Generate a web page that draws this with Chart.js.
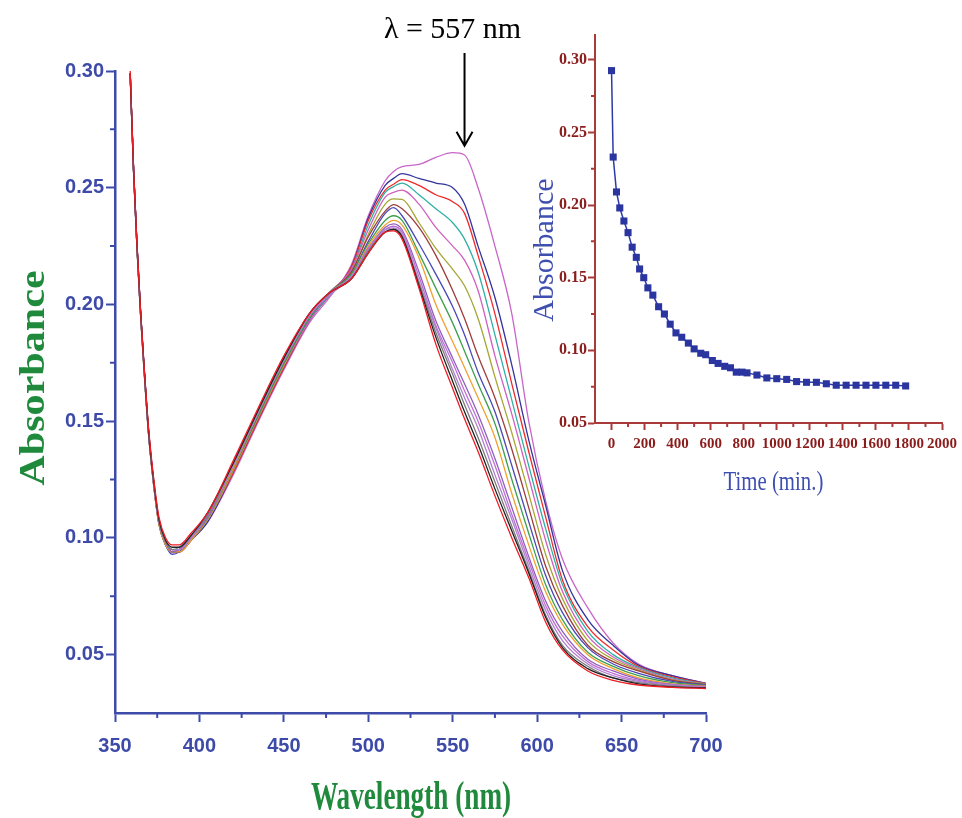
<!DOCTYPE html>
<html>
<head>
<meta charset="utf-8">
<title>Absorbance spectra</title>
<script src="https://cdn.jsdelivr.net/npm/chart.js@4.4.0/dist/chart.umd.min.js"></script>
<style>
  html, body { margin: 0; padding: 0; background: #fff; }
  #wrap { position: relative; width: 962px; height: 818px; overflow: hidden; }
  #main { position: absolute; left: 0; top: 0; }
  #inset { position: absolute; left: 500px; top: 20px; }
</style>
</head>
<body>
<div id="wrap">
  <canvas id="main" width="962" height="818"></canvas>
  <canvas id="inset" width="462" height="500"></canvas>
</div>
<script>
// wavelength grid (nm) shared by every scan
const wavelengths = [359, 361, 363, 365, 367, 370, 373, 376, 380, 384, 388, 395, 405, 420, 435, 450, 465,
  477, 490, 500, 510, 515, 520, 530, 540, 550, 557, 565, 575, 585, 595, 605, 615, 630, 645, 660, 680, 700];

// absorbance of each scan, first scan (highest at 557 nm) to last
const scan01 = [0.298, 0.258, 0.226, 0.199, 0.176, 0.145, 0.123, 0.107, 0.098, 0.095, 0.095, 0.099, 0.107, 0.127, 0.150, 0.172, 0.192,
  0.203, 0.217, 0.238, 0.253, 0.257, 0.259, 0.260, 0.263, 0.265, 0.264, 0.250, 0.225, 0.196, 0.150, 0.116, 0.091, 0.070, 0.055, 0.046, 0.041, 0.0377];
const scan02 = [0.299, 0.257, 0.225, 0.198, 0.175, 0.144, 0.122, 0.106, 0.097, 0.094, 0.094, 0.099, 0.107, 0.128, 0.151, 0.173, 0.193,
  0.204, 0.216, 0.237, 0.251, 0.254, 0.256, 0.254, 0.252, 0.250, 0.243, 0.225, 0.203, 0.174, 0.142, 0.114, 0.086, 0.065, 0.054, 0.0455, 0.041, 0.0377];
const scan03 = [0.299, 0.258, 0.226, 0.198, 0.175, 0.145, 0.123, 0.107, 0.098, 0.095, 0.095, 0.099, 0.108, 0.128, 0.151, 0.173, 0.193,
  0.204, 0.216, 0.236, 0.249, 0.2515, 0.2535, 0.251, 0.247, 0.244, 0.239, 0.221, 0.196, 0.166, 0.137, 0.109, 0.082, 0.062, 0.052, 0.045, 0.0405, 0.0376];
const scan04 = [0.298, 0.257, 0.225, 0.197, 0.174, 0.144, 0.122, 0.106, 0.097, 0.094, 0.094, 0.099, 0.108, 0.129, 0.152, 0.174, 0.193,
  0.204, 0.215, 0.234, 0.248, 0.2505, 0.252, 0.247, 0.241, 0.235, 0.228, 0.214, 0.187, 0.159, 0.131, 0.104, 0.080, 0.060, 0.050, 0.0445, 0.040, 0.0375];
const scan05 = [0.299, 0.257, 0.225, 0.198, 0.175, 0.144, 0.123, 0.107, 0.097, 0.094, 0.095, 0.100, 0.108, 0.129, 0.152, 0.174, 0.193,
  0.205, 0.215, 0.232, 0.246, 0.248, 0.249, 0.243, 0.233, 0.225, 0.219, 0.206, 0.178, 0.153, 0.126, 0.099, 0.077, 0.058, 0.049, 0.044, 0.0395, 0.0374];
const scan06 = [0.299, 0.258, 0.225, 0.198, 0.175, 0.144, 0.123, 0.106, 0.097, 0.094, 0.094, 0.099, 0.108, 0.129, 0.152, 0.174, 0.194,
  0.205, 0.214, 0.230, 0.243, 0.2452, 0.245, 0.235, 0.224, 0.215, 0.208, 0.194, 0.169, 0.145, 0.119, 0.093, 0.074, 0.056, 0.048, 0.0435, 0.0392, 0.0373];
const scan07 = [0.298, 0.257, 0.224, 0.197, 0.174, 0.143, 0.122, 0.106, 0.097, 0.094, 0.094, 0.099, 0.109, 0.130, 0.153, 0.175, 0.194,
  0.205, 0.214, 0.229, 0.240, 0.2428, 0.241, 0.233, 0.221, 0.206, 0.194, 0.178, 0.160, 0.138, 0.113, 0.088, 0.071, 0.054, 0.047, 0.043, 0.039, 0.0372];
const scan08 = [0.299, 0.257, 0.225, 0.198, 0.175, 0.144, 0.123, 0.107, 0.097, 0.093, 0.094, 0.099, 0.109, 0.130, 0.153, 0.175, 0.194,
  0.205, 0.213, 0.227, 0.239, 0.2415, 0.238, 0.226, 0.213, 0.199, 0.187, 0.171, 0.154, 0.131, 0.107, 0.084, 0.068, 0.053, 0.046, 0.042, 0.0385, 0.037];
const scan09 = [0.299, 0.258, 0.225, 0.198, 0.175, 0.144, 0.123, 0.107, 0.098, 0.094, 0.095, 0.100, 0.109, 0.130, 0.153, 0.175, 0.194,
  0.205, 0.213, 0.226, 0.236, 0.238, 0.236, 0.222, 0.207, 0.192, 0.180, 0.166, 0.149, 0.125, 0.102, 0.080, 0.065, 0.051, 0.045, 0.041, 0.038, 0.0368];
const scan10 = [0.298, 0.257, 0.225, 0.197, 0.174, 0.144, 0.122, 0.106, 0.097, 0.094, 0.094, 0.099, 0.109, 0.130, 0.154, 0.176, 0.195,
  0.205, 0.212, 0.225, 0.234, 0.236, 0.234, 0.220, 0.200, 0.184, 0.173, 0.160, 0.143, 0.119, 0.097, 0.077, 0.063, 0.050, 0.044, 0.040, 0.0375, 0.0366];
const scan11 = [0.299, 0.257, 0.225, 0.198, 0.175, 0.144, 0.123, 0.107, 0.098, 0.094, 0.095, 0.100, 0.109, 0.131, 0.154, 0.176, 0.195,
  0.204, 0.212, 0.224, 0.233, 0.2345, 0.232, 0.214, 0.193, 0.177, 0.166, 0.153, 0.134, 0.113, 0.092, 0.073, 0.060, 0.048, 0.043, 0.0395, 0.0372, 0.0364];
const scan12 = [0.299, 0.258, 0.226, 0.198, 0.175, 0.145, 0.123, 0.107, 0.098, 0.095, 0.095, 0.100, 0.110, 0.131, 0.154, 0.176, 0.195,
  0.205, 0.212, 0.224, 0.232, 0.2335, 0.231, 0.212, 0.191, 0.175, 0.163, 0.150, 0.131, 0.110, 0.090, 0.071, 0.058, 0.047, 0.042, 0.039, 0.037, 0.0362];
const scan13 = [0.298, 0.257, 0.225, 0.198, 0.175, 0.144, 0.123, 0.107, 0.098, 0.095, 0.095, 0.100, 0.110, 0.131, 0.154, 0.176, 0.195,
  0.204, 0.212, 0.223, 0.232, 0.2328, 0.230, 0.210, 0.190, 0.172, 0.160, 0.147, 0.127, 0.108, 0.088, 0.069, 0.056, 0.046, 0.041, 0.0385, 0.0368, 0.036];
const scan14 = [0.299, 0.257, 0.225, 0.198, 0.175, 0.144, 0.123, 0.107, 0.098, 0.095, 0.096, 0.101, 0.110, 0.132, 0.155, 0.177, 0.196,
  0.205, 0.211, 0.223, 0.231, 0.2323, 0.229, 0.209, 0.188, 0.170, 0.157, 0.143, 0.124, 0.105, 0.086, 0.067, 0.054, 0.045, 0.040, 0.038, 0.0365, 0.0358];
const scan15 = [0.299, 0.258, 0.226, 0.199, 0.176, 0.145, 0.124, 0.108, 0.099, 0.096, 0.096, 0.101, 0.111, 0.132, 0.155, 0.177, 0.196,
  0.205, 0.211, 0.222, 0.231, 0.2321, 0.229, 0.208, 0.186, 0.167, 0.154, 0.140, 0.121, 0.103, 0.085, 0.066, 0.053, 0.044, 0.040, 0.0375, 0.0362, 0.0357];
const scan16 = [0.300, 0.258, 0.226, 0.199, 0.176, 0.146, 0.125, 0.109, 0.100, 0.097, 0.097, 0.102, 0.111, 0.133, 0.156, 0.178, 0.196,
  0.205, 0.211, 0.222, 0.231, 0.2315, 0.228, 0.207, 0.183, 0.164, 0.151, 0.137, 0.118, 0.100, 0.083, 0.064, 0.052, 0.043, 0.039, 0.037, 0.036, 0.0355];

const scans = [scan01, scan02, scan03, scan04, scan05, scan06, scan07, scan08,
  scan09, scan10, scan11, scan12, scan13, scan14, scan15, scan16];
const scanColors = ['#c866c8', '#34349c', '#f02a2a', '#2fb0a6', '#d060c0', '#a6a634', '#a03c3c', '#4848b8',
  '#3ea04e', '#f0a030', '#9060c0', '#c070d0', '#b080d0', '#7a7a7a', '#202020', '#ee1c24'];

// kinetic trace at 557 nm
const timeMin = [0, 10, 30, 50, 75, 100, 125, 150, 170, 195, 220, 250, 285, 320, 355, 390, 425, 465, 500, 540,
  570, 610, 645, 685, 720, 755, 790, 820, 880, 940, 1000, 1060, 1120, 1180, 1240, 1300, 1360, 1420, 1480,
  1540, 1600, 1660, 1720, 1780];
const absAt557 = [0.2925, 0.233, 0.209, 0.198, 0.189, 0.181, 0.171, 0.164, 0.156, 0.150, 0.143, 0.138, 0.130,
  0.125, 0.118, 0.112, 0.109, 0.105, 0.101, 0.098, 0.097, 0.093, 0.091, 0.089, 0.088, 0.085, 0.085, 0.0845,
  0.083, 0.081, 0.0805, 0.080, 0.0785, 0.078, 0.078, 0.077, 0.076, 0.076, 0.076, 0.076, 0.076, 0.076, 0.076, 0.0755];

const wlTicks = [350, 400, 450, 500, 550, 600, 650, 700];
const absTicks = [0.05, 0.10, 0.15, 0.20, 0.25, 0.30];
const timeTicks = [0, 200, 400, 600, 800, 1000, 1200, 1400, 1600, 1800, 2000];
const insetAbsTicks = [0.05, 0.10, 0.15, 0.20, 0.25, 0.30];
const markedWavelength = 557;

const BLUE = '#3d4aa8';
const GREEN = '#1f8a3c';
const DARKRED = '#8b1c1c';
const RED_AXIS = '#a83a3a';
const INSET_BLUE = '#3f4fb0';

// text squeezed horizontally, like the condensed lettering of the figure
function drawText(ctx, text, x, y, font, color, squeeze, angle) {
  ctx.save();
  ctx.translate(x, y);
  if (angle) ctx.rotate(angle);
  ctx.scale(squeeze, 1);
  ctx.font = font;
  ctx.fillStyle = color;
  ctx.textAlign = 'center';
  ctx.textBaseline = 'alphabetic';
  ctx.fillText(text, 0, 0);
  ctx.restore();
}

function minorTicks(ctx, scale, values, horizontal, edge, len, color) {
  ctx.save();
  ctx.strokeStyle = color;
  ctx.lineWidth = 2;
  ctx.beginPath();
  values.forEach(v => {
    const p = scale.getPixelForValue(v);
    if (horizontal) { ctx.moveTo(p, edge); ctx.lineTo(p, edge + len); }
    else { ctx.moveTo(edge, p); ctx.lineTo(edge - len, p); }
  });
  ctx.stroke();
  ctx.restore();
}

const mainDecor = {
  id: 'mainDecor',
  afterDraw(chart) {
    const { ctx, chartArea: area, scales: { x, y } } = chart;
    const xm = wlTicks.slice(1).map((v, i) => (v + wlTicks[i]) / 2);
    const ym = absTicks.slice(1).map((v, i) => (v + absTicks[i]) / 2);
    minorTicks(ctx, x, xm, true, area.bottom, 5, BLUE);
    minorTicks(ctx, y, ym, false, area.left, 5, BLUE);

    drawText(ctx, 'Absorbance', 44, 378, 'bold 36px "Liberation Serif", serif', GREEN, 1.17, -Math.PI / 2);
    drawText(ctx, 'Wavelength (nm)', 411, 809, 'bold 40px "Liberation Serif", serif', GREEN, 0.68, 0);

    // arrow marking the band followed in the inset
    const ax = x.getPixelForValue(markedWavelength);
    const tip = y.getPixelForValue(0.268);
    ctx.save();
    ctx.strokeStyle = '#000';
    ctx.lineWidth = 2;
    ctx.beginPath();
    ctx.moveTo(ax, area.top - 18);
    ctx.lineTo(ax, tip);
    ctx.moveTo(ax - 8, tip - 14);
    ctx.lineTo(ax, tip);
    ctx.lineTo(ax + 8, tip - 14);
    ctx.stroke();
    ctx.restore();
    drawText(ctx, 'λ = ' + markedWavelength + ' nm', ax - 12, 38, '30px "Liberation Serif", serif', '#000', 1, 0);
  }
};

const insetDecor = {
  id: 'insetDecor',
  afterDraw(chart) {
    const { ctx, chartArea: area, scales: { x, y } } = chart;
    const xm = timeTicks.slice(1).map((v, i) => (v + timeTicks[i]) / 2);
    const ym = insetAbsTicks.slice(1).map((v, i) => (v + insetAbsTicks[i]) / 2);
    minorTicks(ctx, x, xm, true, area.bottom, 4, RED_AXIS);
    minorTicks(ctx, y, ym, false, area.left, 4, RED_AXIS);
    drawText(ctx, 'Absorbance', 53, y.getPixelForValue(0.169), '30px "Liberation Serif", serif', INSET_BLUE, 1, -Math.PI / 2);
    drawText(ctx, 'Time (min.)', x.getPixelForValue(980), 470, '27px "Liberation Serif", serif', INSET_BLUE, 0.77, 0);
  }
};

const mainSets = scans.map((s, i) => ({
  data: wavelengths.map((w, j) => ({ x: w, y: s[j] })),
  borderColor: scanColors[i],
  borderWidth: 1.3,
  pointRadius: 0,
  cubicInterpolationMode: 'monotone',
  order: scans.length - 1 - i
}));

new Chart(document.getElementById('main'), {
  type: 'line',
  data: { datasets: mainSets },
  options: {
    responsive: false,
    animation: false,
    layout: { padding: { left: 0, right: 256, top: 71, bottom: 0 } },
    plugins: { legend: { display: false }, tooltip: { enabled: false } },
    scales: {
      x: {
        type: 'linear', min: 350, max: 700,
        afterBuildTicks: ax => { ax.ticks = wlTicks.map(v => ({ value: v })); },
        afterFit: ax => { ax.height = 105; },
        grid: { drawOnChartArea: false, tickLength: 9, tickWidth: 2, tickColor: BLUE },
        border: { color: BLUE, width: 2.5 },
        ticks: { color: BLUE, padding: 12, maxRotation: 0, font: { family: '"Liberation Sans", Arial, sans-serif', size: 20, weight: 'bold' }, callback: v => String(v) }
      },
      y: {
        min: 0.025, max: 0.30,
        afterBuildTicks: ax => { ax.ticks = absTicks.map(v => ({ value: v })); },
        afterFit: ax => { ax.width = 115; },
        grid: { drawOnChartArea: false, tickLength: 9, tickWidth: 2, tickColor: BLUE },
        border: { color: BLUE, width: 2.5 },
        ticks: { color: BLUE, padding: 2, font: { family: '"Liberation Sans", Arial, sans-serif', size: 20, weight: 'bold' }, callback: v => v.toFixed(2) }
      }
    }
  },
  plugins: [mainDecor]
});

new Chart(document.getElementById('inset'), {
  type: 'line',
  data: {
    datasets: [{
      data: timeMin.map((t, i) => ({ x: t, y: absAt557[i] })),
      borderColor: '#2c3aa8',
      borderWidth: 1.5,
      pointStyle: 'rect',
      pointRadius: 5,
      pointBackgroundColor: '#2a35a0',
      pointBorderWidth: 0
    }]
  },
  options: {
    responsive: false,
    animation: false,
    layout: { padding: { left: 0, right: 15, top: 15, bottom: 0 } },
    plugins: { legend: { display: false }, tooltip: { enabled: false } },
    scales: {
      x: {
        type: 'linear', min: -100, max: 2000,
        afterBuildTicks: ax => { ax.ticks = timeTicks.map(v => ({ value: v })); },
        afterFit: ax => { ax.height = 97; },
        grid: { drawOnChartArea: false, tickLength: 7, tickWidth: 2, tickColor: RED_AXIS },
        border: { color: RED_AXIS, width: 2 },
        ticks: { color: DARKRED, padding: 5, maxRotation: 0, autoSkip: false, font: { family: '"Liberation Serif", serif', size: 15, weight: 'bold' }, callback: v => String(v) }
      },
      y: {
        min: 0.05, max: 0.317,
        afterBuildTicks: ax => { ax.ticks = insetAbsTicks.map(v => ({ value: v })); },
        afterFit: ax => { ax.width = 95; },
        grid: { drawOnChartArea: false, tickLength: 7, tickWidth: 2, tickColor: RED_AXIS },
        border: { color: RED_AXIS, width: 2 },
        ticks: { color: DARKRED, padding: 1, font: { family: '"Liberation Serif", serif', size: 16, weight: 'bold' }, callback: v => v.toFixed(2) }
      }
    }
  },
  plugins: [insetDecor]
});
</script>
</body>
</html>
